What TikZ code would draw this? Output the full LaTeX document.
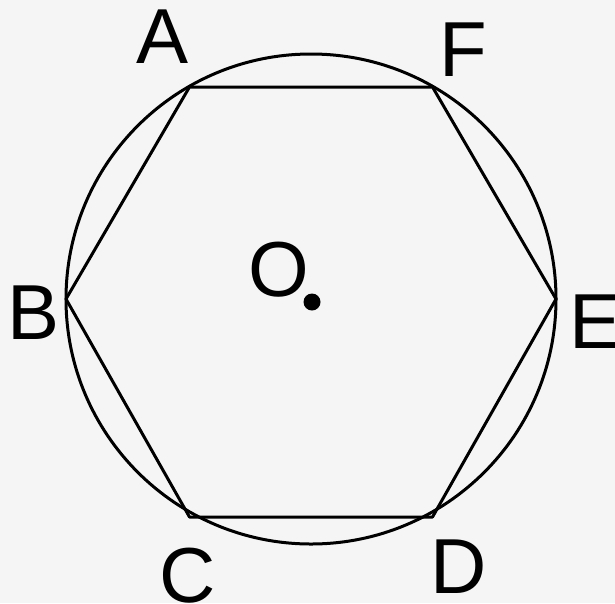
\documentclass[tikz,border=0pt]{standalone}
\usepackage{fontspec}
\setmainfont{Liberation Sans}
\begin{document}
\begin{tikzpicture}[x=1pt,y=-1pt,
  lbl/.style={font=\fontsize{78}{78}\selectfont, inner sep=0pt},
  ln/.style={line width=3pt, line join=round}]
\fill[fill={rgb,255:red,245;green,245;blue,245}] (0,0) rectangle (615,603);
\useasboundingbox (0,0) rectangle (615,603);
\coordinate (O) at (311,299);
\coordinate (A) at (189.5,87);
\coordinate (F) at (432.5,87);
\coordinate (B) at (66,299);
\coordinate (E) at (556,299);
\coordinate (C) at (189.5,517);
\coordinate (D) at (432.5,517);
\draw[ln] (O) circle[radius=245pt];
\draw[ln] (A) -- (F) -- (E) -- (D) -- (C) -- (B) -- cycle;
\fill (312,302) circle[radius=8.5pt];
\node[lbl] (lA) at (163,37) {A};
\node[lbl] (lF) at (463,50) {F};
\node[lbl] (lB) at (34,313) {B};
\node[lbl] (lE) at (596,322) {E};
\node[lbl] (lC) at (188,576) {C};
\node[lbl] (lD) at (458.5,566.5) {D};
\node[lbl] (lO) at (279,270) {O};
\end{tikzpicture}
\end{document}
